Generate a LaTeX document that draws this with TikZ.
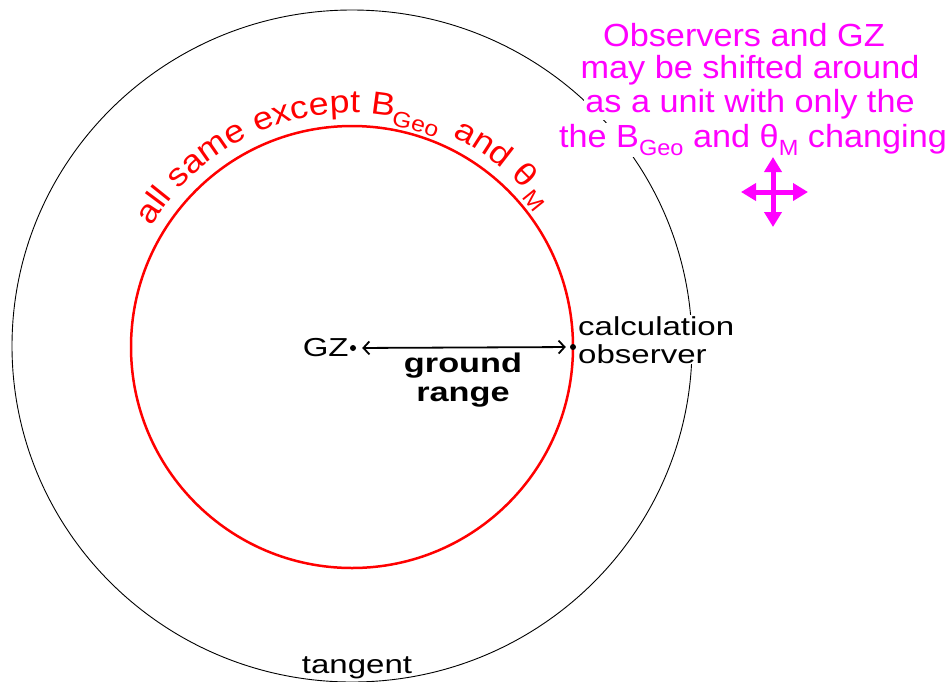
\documentclass[tikz,border=0pt]{standalone}
\usepackage{fontspec}
\setmainfont{Liberation Sans}
\newfontfamily\labelfont[FakeStretch=1.27]{Liberation Sans}
\newfontfamily\notefont[FakeStretch=1.07]{Liberation Sans}
\newfontfamily\arcfont[FakeStretch=1.12]{Liberation Sans}
\usetikzlibrary{arrows.meta, positioning, calc, decorations.text}

\definecolor{notemagenta}{RGB}{255,0,255}
\newcommand{\lowsub}[1]{\raisebox{-0.28em}{\fontsize{22}{22}\selectfont #1}}

\begin{document}
\begin{tikzpicture}[
    x=1pt, y=1pt,
    % Circles
    outer ring/.style={draw=black, line width=0.9pt},
    inner ring/.style={draw=red, line width=2.5pt},
    % Points and texts
    dot/.style={circle, fill=black, minimum size=6pt, inner sep=0pt},
    blacktext/.style={font=\labelfont\fontsize{26}{28}\selectfont, inner sep=1pt},
    rangetext/.style={font=\labelfont\fontsize{27}{29}\selectfont\bfseries, align=center, inner sep=1pt},
    note/.style={font=\notefont\fontsize{32}{34}\selectfont, text=notemagenta,
        fill=white, inner sep=1pt, anchor=base},
    arc text/.style={decorate, decoration={text along path, text color=red, text={#1}}},
    % Connectors
    rangearrow/.style={line width=1.8pt,
        {Straight Barb[length=6pt,width=13pt]}-{Straight Barb[length=6pt,width=13pt]},
        shorten <=6pt, shorten >=4pt},
    movearrow/.style={draw=notemagenta, line width=5pt,
        {Triangle[length=15pt,width=17pt]}-{Triangle[length=15pt,width=17pt]}},
]

% === Canvas ===
\fill[white] (0,0) rectangle (947,-681);
\useasboundingbox (0,0) rectangle (947,-681);

% === Tangent circle ===
\coordinate (c) at (352,-347);
\draw[outer ring] (352,-346) ellipse [x radius=340, y radius=336];

% === Note in magenta ===
\node[note] (note1) at (744,-46)  {Observers and GZ};
\node[note] (note2) at (750,-78)  {may be shifted around};
\node[note] (note3) at (750,-112) {as a unit with only the};
\node[note] (note4) at (753,-147) {the B\lowsub{Geo} and θ\lowsub{M} changing};

% === Move symbol ===
\coordinate (mv) at (773,-192);
\coordinate (mvN) at ($(mv)+(0,35)$);
\coordinate (mvS) at ($(mv)+(0,-35)$);
\coordinate (mvE) at ($(mv)+(35,0)$);
\coordinate (mvW) at ($(mv)+(-32,0)$);
\draw[movearrow] (mvW) -- (mvE);
\draw[movearrow] (mvS) -- (mvN);

% === Observer label ===
\coordinate (obspt) at (573,-347);
\node[blacktext, fill=white, anchor=north west, align=left] (obslabel)
    at ($(obspt)+(4,32)$) {calculation\\observer};

% === Ground range circle ===
\draw[inner ring] (c) circle [radius=221];
\node[dot] (obs) at (obspt) {};
\node[dot] (gz) at (353,-348) {};
\node[blacktext, left=0pt of gz] (gzlabel) {GZ};

% === Curved text ===
\path[arc text={|\arcfont\fontsize{32}{32}\selectfont|all same except}]
    ($(c)+(149:234)$) arc [start angle=149, end angle=20, radius=234];
\path[arc text={|\arcfont\fontsize{32}{32}\selectfont|B}]
    ($(c)+(85.5:234)$) arc [start angle=85.5, end angle=20, radius=234];
\path[arc text={|\arcfont\fontsize{22}{22}\selectfont|Geo}]
    ($(c)+(80:225)$) arc [start angle=80, end angle=20, radius=225];
\path[arc text={|\arcfont\fontsize{32}{32}\selectfont|and θ}]
    ($(c)+(64.5:233)$) arc [start angle=64.5, end angle=10, radius=233];
\path[arc text={|\arcfont\fontsize{22}{22}\selectfont|M}]
    ($(c)+(41.5:226)$) arc [start angle=41.5, end angle=10, radius=226];

% === Ground range ===
\draw[rangearrow] (gz) -- (obs);
\coordinate (mid) at ($(gz)!0.5!(obs)$);
\node[rangetext, below=4pt of mid] (rangelabel) {ground\\range};

% === Tangent label ===
\node[blacktext, anchor=base] (tangent) at (357,-673) {tangent};

\end{tikzpicture}
\end{document}
